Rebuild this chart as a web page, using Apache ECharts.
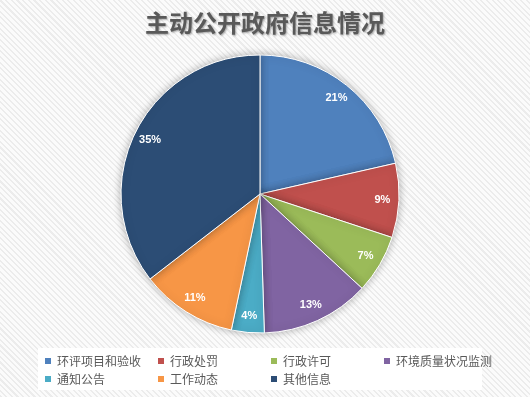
<!DOCTYPE html>
<html>
<head>
<meta charset="utf-8">
<script src="https://cdn.jsdelivr.net/npm/echarts@6/dist/echarts.min.js"></script>
<style>
  html, body {
    margin: 0;
    padding: 0;
    width: 530px;
    height: 397px;
    overflow: hidden;
    background-color: #f7f7f7;
    background-image: repeating-linear-gradient(45deg, #ececec 0px, #ececec 1.5px, #fbfbfb 1.5px, #fbfbfb 4px);
  }
  #chart {
    width: 530px;
    height: 397px;
  }
</style>
</head>
<body>
<div id="chart"></div>
<script>
// 分类与占比（%，按图中扇区角度估读）
const categories = ['环评项目和验收', '行政处罚', '行政许可', '环境质量状况监测', '通知公告', '工作动态', '其他信息']
const values = [21.4, 8.6, 6.8, 12.6, 3.8, 11.2, 35.4]
const colors = ['#4f81bd', '#c0504d', '#9bbb59', '#8064a2', '#4bacc6', '#f79646', '#2c4d75']

const pieData = categories.map((name, i) => ({ name, value: values[i] }))

const chart = echarts.init(document.getElementById('chart'))

const option = {
  backgroundColor: 'transparent',
  color: colors,
  animation: false,
  title: {
    text: '主动公开政府信息情况',
    left: 'center',
    top: 6,
    textStyle: {
      fontFamily: 'Noto Sans CJK SC',
      fontSize: 24,
      fontWeight: 'bold',
      color: '#595959',
      textShadowColor: 'rgba(0,0,0,0.35)',
      textShadowBlur: 2,
      textShadowOffsetX: 1,
      textShadowOffsetY: 1
    }
  },
  // 图例白底
  graphic: [
    {
      type: 'rect',
      left: 38,
      top: 348,
      shape: { width: 444, height: 42 },
      style: { fill: '#ffffff' },
      z: 0
    }
  ],
  legend: {
    left: 38,
    top: 347,
    width: 470,
    itemGap: 0,
    itemWidth: 8,
    itemHeight: 8,
    icon: 'rect',
    textStyle: {
      fontFamily: 'Noto Sans CJK SC',
      fontSize: 12,
      color: '#595959',
      width: 99,
      lineHeight: 18
    },
    data: categories
  },
  series: [
    {
      name: '主动公开',
      type: 'pie',
      radius: [0, 139],
      center: [260, 194],
      startAngle: 90,
      clockwise: true,
      label: { show: false },
      labelLine: { show: false },
      itemStyle: {
        borderColor: '#ffffff',
        borderWidth: 1,
        shadowBlur: 8,
        shadowColor: 'rgba(0,0,0,0.3)'
      },
      emphasis: { disabled: true },
      data: pieData
    },
    {
      // 只用来放标签（标签位于约 0.86 半径处）
      name: '标签',
      type: 'pie',
      radius: [100, 139],
      center: [260, 194],
      startAngle: 90,
      silent: true,
      itemStyle: { color: 'transparent', borderWidth: 0 },
      label: {
        show: true,
        position: 'inside',
        formatter: (p) => Math.round(p.percent) + '%',
        fontFamily: 'Liberation Sans',
        fontSize: 11,
        fontWeight: 'bold',
        color: '#ffffff'
      },
      labelLine: { show: false },
      emphasis: { disabled: true },
      data: pieData
    }
  ]
}

chart.setOption(option)
</script>
</body>
</html>
